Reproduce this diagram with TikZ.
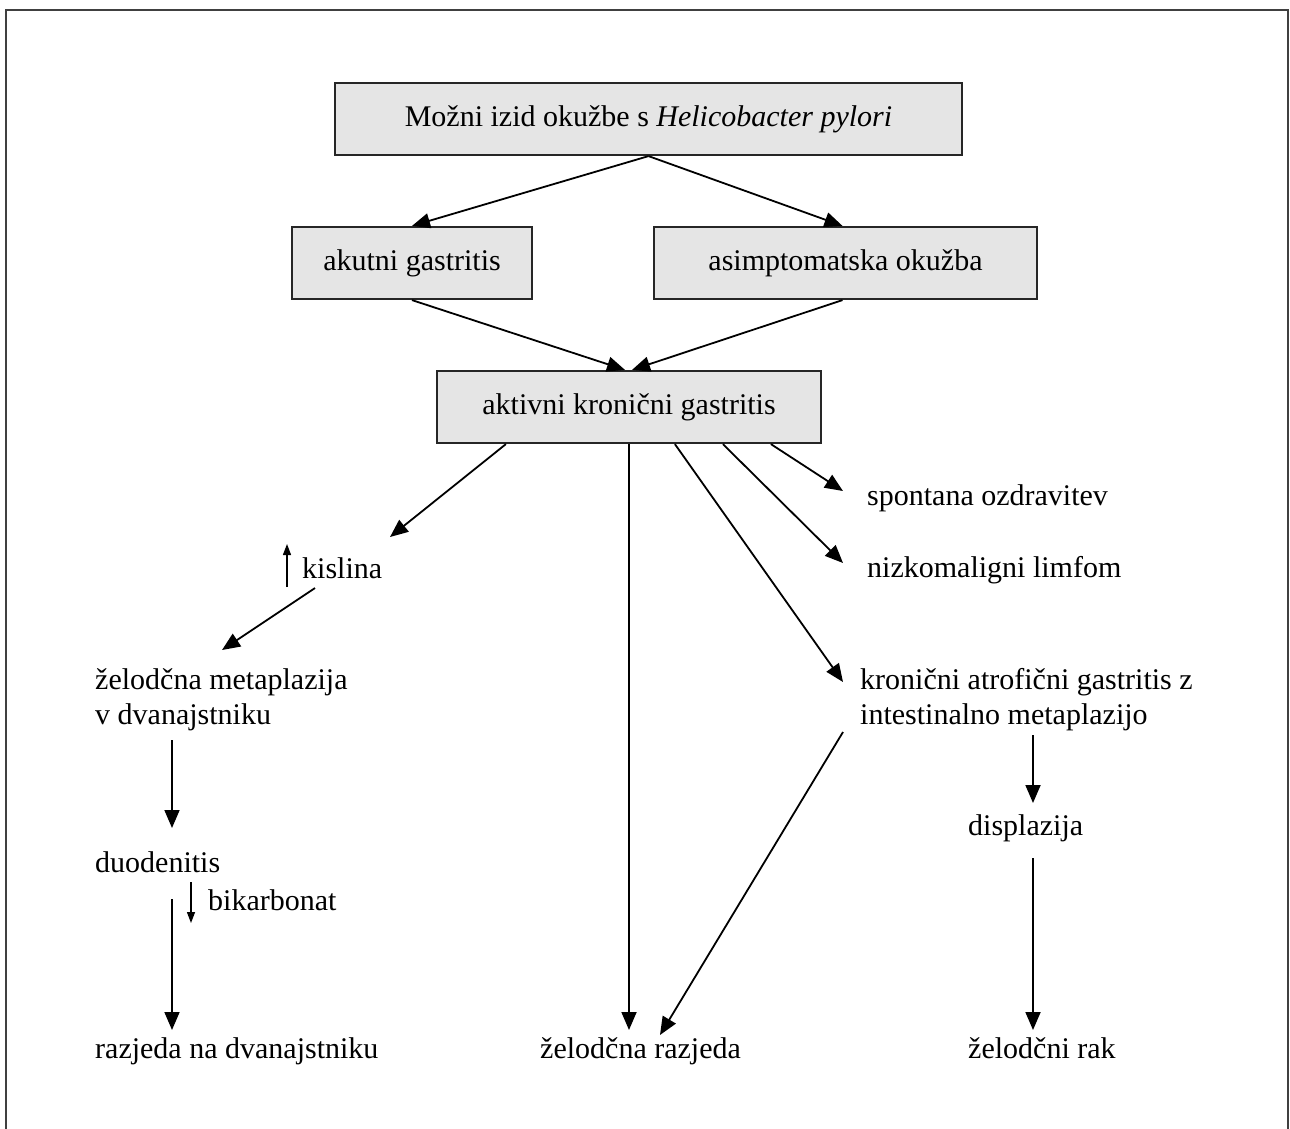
\documentclass[tikz,border=0pt]{standalone}
\usepackage{fontspec}
\setmainfont{Liberation Serif}
\usetikzlibrary{arrows.meta,calc}
\begin{document}
\begin{tikzpicture}[x=1pt,y=-1pt,
  txt/.style={font=\fontsize{30}{36}\selectfont},
  box/.style={txt,draw=black!85,line width=2.2pt,fill=black!10,minimum height=72pt,inner sep=0pt},
  lbl/.style={txt,inner sep=0pt,anchor=base west},
  conn/.style={line width=1.8pt,-{Triangle[length=18pt,width=15pt]}},
  tinyconn/.style={line width=1.3pt,-{Triangle[length=11pt,width=8pt]}},
  frame/.style={draw=black!75,line width=2pt}]
\useasboundingbox (0,0) rectangle (1290,1128);
% outer frame (open at the bottom edge of the page)
\draw[frame] (6,1140) -- (6,10) -- (1288,10) -- (1288,1140);

% boxed stages
\node[box,minimum width=627pt] (top) at (648.5,119) {Možni izid okužbe s \textit{Helicobacter pylori}};
\node[box,minimum width=240pt] (ak) at (412,263) {akutni gastritis};
\node[box,minimum width=383pt] (as) at (845.5,263) {asimptomatska okužba};
\node[box,minimum width=384pt] (akt) at (629,407) {aktivni kronični gastritis};

% plain outcomes
\node[lbl] (spont) at (867,505) {spontana ozdravitev};
\node[lbl] (limf) at (867,577) {nizkomaligni limfom};
\node[lbl] (kron1) at (860,689) {kronični atrofični gastritis z};
\node[lbl] (kron2) at (860,724) {intestinalno metaplazijo};
\node[lbl] (displ) at (968,835) {displazija};
\node[lbl] (rak) at (968,1058) {želodčni rak};
\node[lbl] (zraz) at (540,1058) {želodčna razjeda};
\node[lbl] (draz) at (95,1058) {razjeda na dvanajstniku};
\node[lbl] (duod) at (95,872) {duodenitis};
\node[lbl] (bik) at (208,910) {bikarbonat};
\node[lbl] (kisl) at (302,578) {kislina};
\node[lbl] (meta1) at (95,689) {želodčna metaplazija};
\node[lbl] (meta2) at (95,724) {v dvanajstniku};

% connectors between boxes
\draw[conn] (top.south) -- (ak.north);
\draw[conn] (top.south) -- ($(as.north)+(-3,0)$);
\draw[conn] (ak.south) -- ($(akt.north)+(-4,0)$);
\draw[conn] ($(as.south)+(-3,0)$) -- ($(akt.north)+(3,0)$);

% connectors fanning out of the chronic gastritis box
\draw[conn] ($(akt.south west)+(70,0)$) -- ($(kisl.base west)+(88,-41)$);
\draw[conn] (akt.south) -- ($(zraz.base west)+(89,-28)$);
\draw[conn] ($(akt.south west)+(239,0)$) -- ($(kron1.base west)+(-17,-7)$);
\draw[conn] ($(akt.south west)+(287,0)$) -- ($(limf.base west)+(-24,-14)$);
\draw[conn] ($(akt.south west)+(335,0)$) -- ($(spont.base west)+(-24,-14)$);

% duodenal branch
\draw[conn] ($(kisl.base west)+(13,10)$) -- ($(meta1.base west)+(127,-39)$);
\draw[conn] ($(meta2.base west)+(77,16)$) -- ($(duod.base west)+(77,-44)$);
\draw[conn] ($(duod.base west)+(77,27)$) -- ($(draz.base west)+(77,-28)$);
\draw[tinyconn] ($(kisl.base west)+(-15,9)$) -- ($(kisl.base west)+(-15,-34)$);
\draw[tinyconn] ($(bik.base west)+(-17,-28)$) -- ($(bik.base west)+(-17,13)$);

% atrophic branch
\draw[conn] ($(kron2.base west)+(-17,8)$) -- ($(zraz.base west)+(120,-23)$);
\draw[conn] ($(kron2.base west)+(173,11)$) -- ($(displ.base west)+(65,-32)$);
\draw[conn] ($(displ.base west)+(65,23)$) -- ($(rak.base west)+(65,-28)$);
\end{tikzpicture}
\end{document}
